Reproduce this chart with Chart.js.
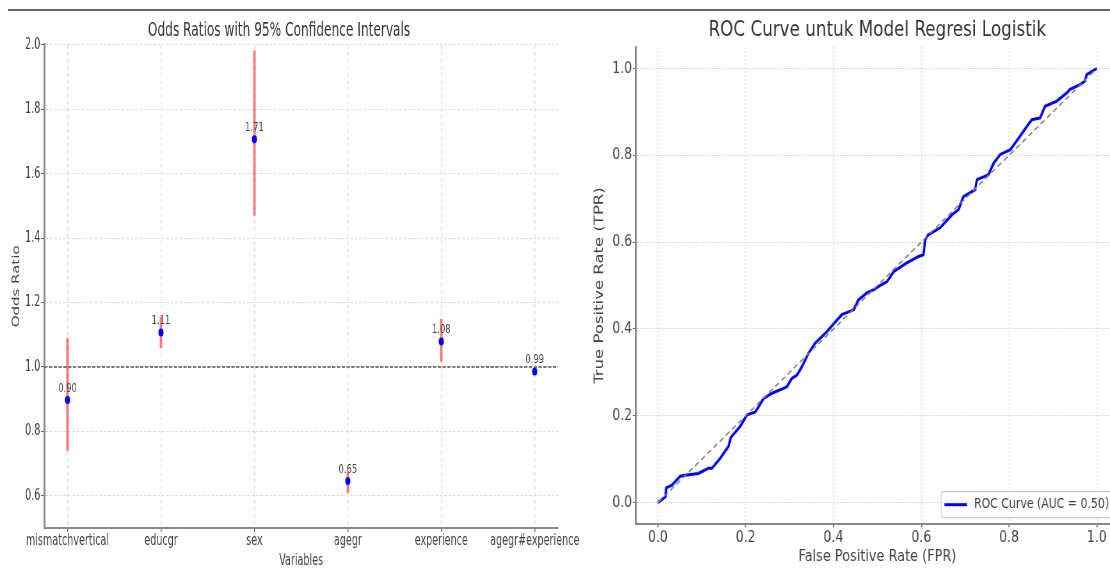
<!DOCTYPE html>
<html>
<head>
<meta charset="utf-8">
<script src="https://cdn.jsdelivr.net/npm/chart.js@4/dist/chart.umd.min.js"></script>
<style>
html, body { margin:0; padding:0; width:1110px; height:572px; overflow:hidden; background:#ffffff; }
#rule { position:absolute; left:8px; top:9px; width:1102px; height:2px; background:#6a6a6a; }
#left { position:absolute; left:0; top:0; transform:scaleX(0.64); transform-origin:0 0; }
#right { position:absolute; left:560px; top:0; transform:scaleX(0.78); transform-origin:0 0; }
</style>
</head>
<body>
<div id="rule"></div>
<canvas id="left" width="1000" height="572"></canvas>
<canvas id="right" width="730" height="572"></canvas>
<script>
// ---------- Left chart data: odds ratios with 95% CI ----------
const categories = ['mismatchvertical', 'educgr', 'sex', 'agegr', 'experience', 'agegr#experience'];
const oddsRatios = [0.897, 1.107, 1.707, 0.646, 1.079, 0.986];
const ciLower    = [0.740, 1.059, 1.469, 0.608, 1.016, 0.978];
const ciUpper    = [1.090, 1.156, 1.983, 0.675, 1.149, 0.993];
const refValue   = 1.0;
const orXLimits  = [-0.25, 5.25];
const orYLimits  = [0.5, 2.0];
const orYTicks   = [0.6, 0.8, 1.0, 1.2, 1.4, 1.6, 1.8, 2.0];

// ---------- Right chart data: ROC curve ----------
const fpr = [0, 0.017, 0.019, 0.032, 0.051, 0.062, 0.092, 0.115, 0.123, 0.142, 0.161, 0.166, 0.187, 0.203,
  0.222, 0.241, 0.260, 0.286, 0.294, 0.305, 0.317, 0.328, 0.343, 0.358, 0.385, 0.419, 0.446, 0.457, 0.476,
  0.491, 0.503, 0.522, 0.537, 0.567, 0.594, 0.605, 0.609, 0.616, 0.643, 0.670, 0.685, 0.696, 0.723, 0.727,
  0.753, 0.765, 0.780, 0.803, 0.825, 0.841, 0.852, 0.871, 0.882, 0.909, 0.932, 0.939, 0.962, 0.973, 0.977, 1.0];
const tpr = [0, 0.013, 0.034, 0.040, 0.061, 0.063, 0.067, 0.079, 0.079, 0.102, 0.130, 0.150, 0.175, 0.202,
  0.209, 0.240, 0.252, 0.263, 0.267, 0.286, 0.294, 0.313, 0.344, 0.367, 0.394, 0.433, 0.444, 0.467, 0.483,
  0.490, 0.498, 0.509, 0.532, 0.552, 0.567, 0.571, 0.606, 0.617, 0.633, 0.663, 0.675, 0.705, 0.721, 0.744,
  0.755, 0.782, 0.802, 0.813, 0.844, 0.867, 0.882, 0.886, 0.913, 0.925, 0.944, 0.952, 0.963, 0.971, 0.986, 1.0];
const diagX = [0, 1];
const diagY = [0, 1];
const rocLabel = 'ROC Curve (AUC = 0.50)';
const rocLimits = [-0.05, 1.05];
const rocTicks = [0.0, 0.2, 0.4, 0.6, 0.8, 1.0];

const F = "'DejaVu Sans', sans-serif";

// ---------- Left chart ----------
const ciData = [];
categories.forEach((c, i) => {
  ciData.push({x: i, y: ciLower[i]}, {x: i, y: ciUpper[i]}, {x: i, y: null});
});

const valueLabels = {
  id: 'valueLabels',
  afterDatasetsDraw(chart) {
    const meta = chart.getDatasetMeta(0);
    const ctx = chart.ctx;
    ctx.save();
    ctx.font = "13px " + F;
    ctx.fillStyle = '#444444';
    ctx.textAlign = 'center';
    ctx.textBaseline = 'bottom';
    meta.data.forEach((pt, i) => {
      ctx.fillText(oddsRatios[i].toFixed(2), pt.x, pt.y - 5);
    });
    ctx.restore();
  }
};

new Chart(document.getElementById('left'), {
  type: 'scatter',
  data: {
    datasets: [
      {
        type: 'scatter',
        data: categories.map((c, i) => ({x: i, y: oddsRatios[i]})),
        backgroundColor: '#0000ff',
        borderWidth: 0,
        pointRadius: 4,
        order: 0
      },
      {
        type: 'line',
        data: orXLimits.map(x => ({x: x, y: refValue})),
        borderColor: '#7a7a7a',
        borderWidth: 2,
        borderDash: [5, 2.5],
        pointRadius: 0,
        fill: false,
        order: 1
      },
      {
        type: 'line',
        data: ciData,
        borderColor: 'rgba(255,0,0,0.5)',
        borderWidth: 4,
        pointRadius: 0,
        spanGaps: false,
        fill: false,
        order: 2
      }
    ]
  },
  options: {
    responsive: false,
    animation: false,
    layout: { padding: { left: 0, right: 128, top: 0, bottom: 0 } },
    scales: {
      x: {
        type: 'linear',
        min: orXLimits[0], max: orXLimits[1],
        afterBuildTicks: s => { s.ticks = categories.map((c, i) => ({value: i})); },
        ticks: { callback: v => categories[v], font: {family: F, size: 15}, color: '#444444', padding: 0, maxRotation: 0, autoSkip: false },
        grid: { color: '#dcdcdc', lineWidth: 1.5, tickLength: 4, tickColor: '#666666', tickWidth: 1.5 },
        border: { color: '#8a8a8a', width: 2, dash: [4, 3] },
        title: { display: true, text: 'Variables', font: {family: F, size: 15}, color: '#444444', padding: {top: 0, bottom: 2} },
        afterFit: s => { s.height = 44; }
      },
      y: {
        type: 'linear',
        min: orYLimits[0], max: orYLimits[1],
        afterBuildTicks: s => { s.ticks = orYTicks.map(v => ({value: v})); },
        ticks: { callback: v => v.toFixed(1), font: {family: F, size: 15}, color: '#444444', padding: 1 },
        grid: { color: '#dcdcdc', lineWidth: 1, tickLength: 5, tickColor: '#666666' },
        border: { color: '#8a8a8a', width: 3, dash: [4, 3] },
        title: { display: true, text: 'Odds Ratio', font: {family: F, size: 15}, color: '#444444', padding: {top: 17, bottom: 0} },
        afterFit: s => { s.width = 69; }
      }
    },
    plugins: {
      title: { display: true, text: 'Odds Ratios with 95% Confidence Intervals', font: {family: F, size: 19, weight: 'normal'}, color: '#333333', padding: {top: 20, bottom: 2} },
      legend: { display: false },
      tooltip: { enabled: false }
    }
  },
  plugins: [valueLabels]
});

// ---------- Right chart ----------
const rocLegend = {
  id: 'rocLegend',
  afterDraw(chart) {
    const ds = chart.data.datasets[0];
    const {ctx, chartArea} = chart;
    ctx.save();
    ctx.font = "14px " + F;
    const tw = ctx.measureText(ds.label).width;
    const h = 26, handle = 29, padL = 4, gap = 9, padR = 6;
    const w = padL + handle + gap + tw + padR;
    const x0 = chartArea.right - 6.4 - w;
    const y0 = chartArea.bottom - 6.6 - h;
    ctx.fillStyle = 'rgba(255,255,255,0.85)';
    ctx.strokeStyle = '#cccccc';
    ctx.lineWidth = 1.2;
    ctx.beginPath();
    ctx.roundRect(x0, y0, w, h, 3);
    ctx.fill();
    ctx.stroke();
    ctx.strokeStyle = ds.borderColor;
    ctx.lineWidth = 3;
    ctx.beginPath();
    ctx.moveTo(x0 + padL, y0 + h / 2);
    ctx.lineTo(x0 + padL + handle, y0 + h / 2);
    ctx.stroke();
    ctx.fillStyle = '#444444';
    ctx.textBaseline = 'middle';
    ctx.textAlign = 'left';
    ctx.fillText(ds.label, x0 + padL + handle + gap, y0 + h / 2);
    ctx.restore();
  }
};

new Chart(document.getElementById('right'), {
  type: 'line',
  data: {
    datasets: [
      {
        label: rocLabel,
        data: fpr.map((x, i) => ({x: x, y: tpr[i]})),
        borderColor: '#0000ff',
        borderWidth: 3,
        pointRadius: 0,
        tension: 0,
        fill: false,
        order: 1
      },
      {
        label: 'Random',
        data: diagX.map((x, i) => ({x: x, y: diagY[i]})),
        borderColor: '#808080',
        borderWidth: 1.6,
        borderDash: [6, 4],
        pointRadius: 0,
        fill: false,
        order: 0
      }
    ]
  },
  options: {
    responsive: false,
    animation: false,
    layout: { padding: { left: 0, right: 13.7, top: 0, bottom: 0 } },
    scales: {
      x: {
        type: 'linear',
        min: rocLimits[0], max: rocLimits[1],
        afterBuildTicks: s => { s.ticks = rocTicks.map(v => ({value: v})); },
        ticks: { callback: v => v.toFixed(1), font: {family: F, size: 16}, color: '#444444', padding: 1, maxRotation: 0 },
        grid: { color: '#dddddd', lineWidth: 1.2, tickLength: 3, tickColor: '#666666', tickWidth: 1.5 },
        border: { color: '#888888', width: 2, dash: [2, 2] },
        title: { display: true, text: 'False Positive Rate (FPR)', font: {family: F, size: 16.5}, color: '#444444', padding: {top: 0, bottom: 5} },
        afterFit: s => { s.height = 47.7; }
      },
      y: {
        type: 'linear',
        min: rocLimits[0], max: rocLimits[1],
        afterBuildTicks: s => { s.ticks = rocTicks.map(v => ({value: v})); },
        ticks: { callback: v => v.toFixed(1), font: {family: F, size: 16}, color: '#444444', padding: 1 },
        grid: { color: '#cfcfcf', lineWidth: 1, tickLength: 4, tickColor: '#666666' },
        border: { color: '#888888', width: 2.6, dash: [2, 2] },
        title: { display: true, text: 'True Positive Rate (TPR)', font: {family: F, size: 16.5}, color: '#444444', padding: {top: 41, bottom: 0} },
        afterFit: s => { s.width = 97.4; }
      }
    },
    plugins: {
      title: { display: true, fullSize: false, text: 'ROC Curve untuk Model Regresi Logistik', font: {family: F, size: 21.5, weight: 'normal'}, color: '#333333', padding: {top: 18, bottom: 3} },
      legend: { display: false },
      tooltip: { enabled: false }
    }
  },
  plugins: [rocLegend]
});
</script>
</body>
</html>
